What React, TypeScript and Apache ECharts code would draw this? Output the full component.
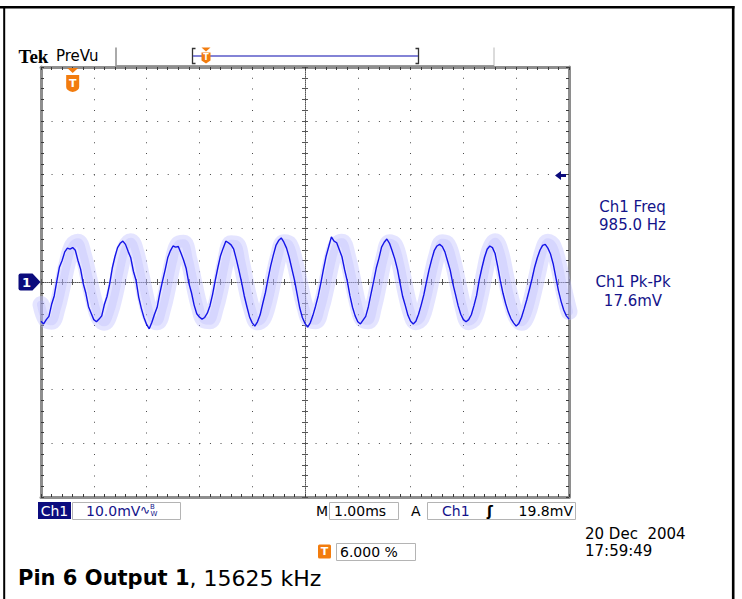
import React, { useEffect, useRef } from 'react';
import * as echarts from 'echarts';

// ---- data (Ch1, 10 mV/div, 1 ms/div) ----
const TIME_STEP_MS = 0.05; // sample spacing of the live trace
const PERSIST_STEP_MS = 0.1; // sample spacing of the persistence cloud centre

// live (dark blue) acquisition, mV, t = 0 .. 10 ms
const traceMv = [
  -7.3, -7.8, -7.0, -6.4, -4.2, -2.6,
  0.2, 2.8, 4.0, 5.6, 6.3, 6.1, 6.4, 5.9, 4.0, 2.4, -0.3, -2.1, -4.6, -5.8, -7.0, -7.4, -6.9, -6.3, -4.2, -2.7,
  -0.4, 2.6, 4.7, 6.4, 7.2, 7.6, 7.0, 5.7, 4.5, 2.0, 0.3, -2.8, -4.9, -6.6, -7.9, -8.7, -7.5, -6.0, -4.7, -2.1,
  0.1, 2.2, 4.5, 5.8, 6.7, 6.5, 6.6, 5.4, 4.1, 2.5, -0.2, -2.0, -4.3, -5.9, -6.5, -6.9, -6.6, -5.8, -4.4, -2.3,
  0.3, 2.7, 4.9, 6.3, 7.6, 7.3, 6.9, 6.1, 4.2, 2.1, -0.1, -2.6, -4.6, -6.5, -7.6, -8.2, -7.4, -6.1, -4.0, -2.0,
  0.6, 3.0, 5.0, 6.8, 7.7, 8.2, 7.4, 6.3, 4.6, 2.5, 0.4, -2.2, -4.8, -6.6, -7.7, -8.4, -7.6, -6.2, -4.5, -2.6,
  -0.2, 2.4, 4.8, 6.6, 8.4, 7.6, 7.3, 6.0, 4.7, 2.3, 0.2, -2.5, -4.7, -6.3, -7.4, -7.8, -7.1, -6.4, -4.6, -2.2,
  0.1, 2.6, 4.4, 6.5, 7.4, 8.0, 7.2, 5.8, 4.3, 2.4, -0.2, -2.7, -4.4, -6.2, -7.3, -7.8, -7.3, -6.0, -4.3, -2.4,
  0.0, 2.3, 4.2, 5.9, 6.7, 7.0, 6.6, 5.6, 3.9, 2.2, -0.3, -2.3, -4.4, -6.0, -7.0, -7.4, -7.0, -6.1, -4.4, -2.5,
  0.4, 2.6, 4.6, 6.1, 6.7, 6.4, 5.3, 2.9, 0.2, -2.1, -4.0, -5.6, -6.8, -7.6, -8.2, -7.7, -6.6, -5.0, -3.3, -1.4,
  0.6, 2.8, 4.5, 5.9, 6.8, 7.0, 6.3, 5.2, 3.4, 0.9, -1.6, -3.6, -5.2, -6.3, -6.9,
];

// centre line of the light persistence cloud, mV, t = 0 .. 10 ms
const persistMv = [
  -4.2, -7.0, -7.3, -5.0, -0.9, 3.6, 6.8, 7.4, 5.1, 0.9,
  -3.4, -6.6, -7.5, -5.8, -2.2, 2.5, 6.3, 7.5, 5.4, 1.0,
  -3.6, -6.8, -7.4, -5.1, -0.9, 3.8, 7.0, 7.2, 4.2, -0.4,
  -4.6, -7.1, -7.2, -4.9, -0.9, 4.0, 7.1, 7.0, 3.5, -1.4,
  -5.3, -7.4, -6.8, -3.9, 0.5, 4.8, 7.3, 7.0, 4.0, -0.4,
  -4.6, -7.1, -7.2, -4.9, -0.9, 3.7, 6.9, 7.4, 4.9, 0.5,
  -4.1, -7.0, -7.2, -4.5, 0.0, 4.6, 7.3, 6.8, 3.4, -1.4,
  -5.4, -7.4, -6.7, -3.5, 0.9, 5.0, 7.3, 6.9, 3.9, -0.5,
  -4.9, -7.4, -6.7, -3.3, 1.6, 5.9, 7.5, 5.6, 1.0, -3.3,
  -6.4, -7.5, -6.2, -2.9, 1.4, 5.5, 7.4, 6.6, 3.2, -1.4,
  -5.5,
];

const X_MIN_MS = 0;
const X_MAX_MS = 10;
const X_DIV_MS = 1;
const Y_MIN_MV = -40;
const Y_MAX_MV = 40;
const Y_DIV_MV = 10;

const GROUND_MV = 0;
const TRIGGER_LEVEL_MV = 19.8;
const TRIGGER_POS_MS = 0.6;

const headerBrand = 'Tek';
const headerMode = 'PreVu';
const measurementLines = ['Ch1 Freq', '985.0 Hz', 'Ch1 Pk-Pk', '17.6mV'];
const statusTexts = {
  ch: 'Ch1',
  scale: '10.0mV',
  timeLabel: 'M',
  time: '1.00ms',
  trigLabel: 'A',
  trigCh: 'Ch1',
  trigSlope: 'ʃ',
  trigLevel: '19.8mV',
  trigPos: '6.000 %',
  date: '20 Dec  2004',
  clock: '17:59:49',
};
const captionBold = 'Pin 6 Output 1';
const captionRest = ', 15625 kHz';

const NAVY = '#13138a';
const ORANGE = '#f27c0e';
const BOX = '#b4b4b4';
const SANS = '"DejaVu Sans", sans-serif';

function txt(text: string, x: number, y: number, size: number, fill: string, align = 'left', weight = 'normal', family = SANS) {
  return {
    type: 'text',
    x,
    y,
    silent: true,
    z: 10,
    style: {
      text,
      fill,
      font: `${weight} ${size}px ${family}`,
      textAlign: align,
      textVerticalAlign: 'middle',
      align,
      verticalAlign: 'middle',
    },
  };
}

function App() {
  const ref = useRef<HTMLDivElement>(null);

  useEffect(() => {
    const chart = echarts.init(ref.current!, undefined, { renderer: 'svg' });

    const traceData = traceMv.map((v, i) => [+(i * TIME_STEP_MS).toFixed(3), v]);
    const persistData = persistMv.map((v, i) => [+(i * PERSIST_STEP_MS).toFixed(3), v]);

    const borderAxis = {
      type: 'value',
      axisLabel: { show: false },
      axisLine: { show: true, onZero: false, lineStyle: { color: '#8e8e8e', width: 3 } },
      axisTick: { show: true, inside: true, length: 3, lineStyle: { color: '#3a3a3a', width: 1 } },
      minorTick: { show: true, splitNumber: 5, length: 3, lineStyle: { color: '#3a3a3a', width: 1 } },
      splitLine: { show: false },
    };
    const centerAxis = {
      type: 'value',
      axisLabel: { show: false },
      axisLine: { show: true, onZero: true, lineStyle: { color: '#555', width: 1, type: [1, 1] } },
      axisTick: { show: true, inside: true, length: 3, lineStyle: { color: '#555', width: 1 } },
      minorTick: { show: true, splitNumber: 5, length: 3, lineStyle: { color: '#555', width: 1 } },
      splitLine: { show: false },
    };

    const gridRect = { left: 41, top: 67, width: 528, height: 430 };

    const graphicEls: any[] = [
      // outer frame
      { type: 'line', silent: true, shape: { x1: 0, y1: 7.2, x2: 734.5, y2: 7.2 }, style: { stroke: '#000', lineWidth: 2.4 } },
      { type: 'line', silent: true, shape: { x1: 4.2, y1: 6, x2: 4.2, y2: 599 }, style: { stroke: '#000', lineWidth: 2 } },
      { type: 'line', silent: true, shape: { x1: 733.2, y1: 6, x2: 733.2, y2: 599 }, style: { stroke: '#000', lineWidth: 2.6 } },
      // header
      txt(headerBrand, 18.5, 56, 19, '#000', 'left', 'bold', '"Liberation Serif", serif'),
      txt(headerMode, 56, 55.5, 15, '#000'),
      { type: 'line', silent: true, shape: { x1: 116, y1: 47.5, x2: 116, y2: 66 }, style: { stroke: '#8e8e8e', lineWidth: 1.5 } },
      { type: 'line', silent: true, shape: { x1: 494, y1: 47.5, x2: 494, y2: 66 }, style: { stroke: '#cfcfcf', lineWidth: 1.5 } },
      { type: 'line', silent: true, shape: { x1: 116, y1: 65.8, x2: 494, y2: 65.8 }, style: { stroke: '#9a9a9a', lineWidth: 1.5 } },
      { type: 'polyline', silent: true, shape: { points: [[195.5, 48.5], [192.5, 48.5], [192.5, 63.5], [195.5, 63.5]] }, style: { stroke: '#333', lineWidth: 1.3, fill: 'none' } },
      { type: 'polyline', silent: true, shape: { points: [[415.5, 48.5], [418.5, 48.5], [418.5, 63.5], [415.5, 63.5]] }, style: { stroke: '#333', lineWidth: 1.3, fill: 'none' } },
      { type: 'line', silent: true, shape: { x1: 193, y1: 56, x2: 418, y2: 56 }, style: { stroke: '#5a5ac8', lineWidth: 1.5 } },
      { type: 'polygon', silent: true, shape: { points: [[201.5, 47.5], [210.5, 47.5], [206, 51.5]] }, style: { fill: ORANGE } },
      { type: 'polygon', silent: true, shape: { points: [[201.5, 52.5], [210.5, 52.5], [210.5, 60.5], [206, 63.5], [201.5, 60.5]] }, style: { fill: ORANGE } },
      txt('T', 206, 57.5, 8, '#fff', 'center', 'bold'),
      // measurements
      txt(measurementLines[0], 632.5, 206.5, 15, NAVY, 'center'),
      txt(measurementLines[1], 632.5, 225, 15, NAVY, 'center'),
      txt(measurementLines[2], 633, 282, 15, NAVY, 'center'),
      txt(measurementLines[3], 633, 300.5, 15, NAVY, 'center'),
      // status row
      { type: 'rect', silent: true, shape: { x: 38, y: 502, width: 33, height: 17 }, style: { fill: '#0c0c7e' } },
      txt(statusTexts.ch, 54.5, 510.5, 14, '#fff', 'center'),
      { type: 'rect', silent: true, shape: { x: 72.5, y: 502.5, width: 108, height: 17 }, style: { fill: 'none', stroke: BOX, lineWidth: 1 } },
      txt(statusTexts.scale, 86, 511, 14, NAVY),
      txt('∿', 140, 510, 12, NAVY),
      txt('B', 150, 507, 7, NAVY),
      txt('W', 150.5, 514, 7, NAVY),
      txt(statusTexts.timeLabel, 316, 511, 14, '#000'),
      { type: 'rect', silent: true, shape: { x: 329.5, y: 502.5, width: 69, height: 17 }, style: { fill: 'none', stroke: BOX, lineWidth: 1 } },
      txt(statusTexts.time, 334, 511, 14, '#000'),
      txt(statusTexts.trigLabel, 411, 511, 14, '#000'),
      { type: 'rect', silent: true, shape: { x: 427.5, y: 502.5, width: 148, height: 17 }, style: { fill: 'none', stroke: BOX, lineWidth: 1 } },
      txt(statusTexts.trigCh, 442, 511, 14, NAVY),
      txt(statusTexts.trigSlope, 487, 511, 14, '#000', 'left', 'bold'),
      txt(statusTexts.trigLevel, 573, 511, 14, '#000', 'right'),
      { type: 'rect', silent: true, shape: { x: 318, y: 544.5, width: 13, height: 14, r: 1.5 }, style: { fill: ORANGE } },
      txt('T', 324.5, 551.5, 11, '#fff', 'center', 'bold'),
      { type: 'rect', silent: true, shape: { x: 336.5, y: 543.5, width: 79, height: 17 }, style: { fill: 'none', stroke: BOX, lineWidth: 1 } },
      txt(statusTexts.trigPos, 340, 552, 14, '#000'),
      txt(statusTexts.date, 585, 534, 15, '#000'),
      txt(statusTexts.clock, 585, 551, 15, '#000'),
      // caption
      {
        type: 'text',
        x: 18,
        y: 578,
        silent: true,
        z: 10,
        style: {
          text: `{b|${captionBold}}{r|${captionRest}}`,
          fill: '#000',
          textVerticalAlign: 'middle',
          verticalAlign: 'middle',
          rich: {
            b: { font: `bold 21px ${SANS}`, fill: '#000', textFill: '#000' },
            r: { font: `normal 22px ${SANS}`, fill: '#000', textFill: '#000' },
          },
        },
      },
    ];

    chart.setOption({
      animation: false,
      backgroundColor: '#fff',
      grid: [
        { ...gridRect, containLabel: false },
        { ...gridRect, containLabel: false },
      ],
      xAxis: [
        {
          ...borderAxis,
          gridIndex: 0,
          min: X_MIN_MS,
          max: X_MAX_MS,
          interval: X_DIV_MS,
          position: 'bottom',
          splitLine: { show: true, lineStyle: { color: '#4a4a4a', width: 1, type: [1, 9.75] } },
        },
        { ...borderAxis, gridIndex: 0, min: X_MIN_MS, max: X_MAX_MS, interval: X_DIV_MS, position: 'top' },
        { ...centerAxis, gridIndex: 1, min: -5, max: 5, interval: 1, position: 'bottom' },
        { ...centerAxis, gridIndex: 1, min: -5, max: 5, interval: 1, position: 'top', axisLine: { show: false, onZero: true } },
      ],
      yAxis: [
        {
          ...borderAxis,
          gridIndex: 0,
          min: Y_MIN_MV,
          max: Y_MAX_MV,
          interval: Y_DIV_MV,
          position: 'left',
          splitLine: { show: true, lineStyle: { color: '#4a4a4a', width: 1, type: [1, 9.56] } },
        },
        { ...borderAxis, gridIndex: 0, min: Y_MIN_MV, max: Y_MAX_MV, interval: Y_DIV_MV, position: 'right' },
        { ...centerAxis, gridIndex: 1, min: -4, max: 4, interval: 1, position: 'left' },
        { ...centerAxis, gridIndex: 1, min: -4, max: 4, interval: 1, position: 'right', axisLine: { show: false, onZero: true } },
      ],
      series: [
        {
          type: 'line',
          name: 'persistence',
          xAxisIndex: 0,
          yAxisIndex: 0,
          data: persistData,
          smooth: 0.4,
          symbol: 'none',
          silent: true,
          z: 2,
          lineStyle: { color: 'rgba(190,190,255,0.42)', width: 17, cap: 'round', join: 'round' },
        },
        {
          type: 'line',
          name: 'persistence-core',
          xAxisIndex: 0,
          yAxisIndex: 0,
          data: persistData,
          smooth: 0.4,
          symbol: 'none',
          silent: true,
          z: 3,
          lineStyle: { color: 'rgba(165,165,250,0.22)', width: 8, cap: 'round', join: 'round' },
        },
        {
          type: 'line',
          name: 'Ch1',
          xAxisIndex: 0,
          yAxisIndex: 0,
          data: traceData,
          symbol: 'none',
          silent: true,
          clip: false,
          z: 4,
          lineStyle: { color: '#1414e8', width: 1.4 },
          markPoint: {
            silent: true,
            animation: false,
            data: [
              {
                name: 'ground',
                coord: [X_MIN_MS, GROUND_MV],
                symbol: 'path://M2,0 L14,0 L22,8.5 L14,17 L2,17 Q0,17 0,15 L0,2 Q0,0 2,0 Z',
                symbolSize: [22, 17],
                symbolOffset: [-11.5, 0],
                itemStyle: { color: '#0b0b7c' },
                label: { show: true, position: 'inside', formatter: '1', color: '#fff', fontWeight: 'bold', fontSize: 13, fontFamily: 'DejaVu Sans', offset: [-3, 0] },
              },
              {
                name: 'trigger level',
                coord: [X_MAX_MS, TRIGGER_LEVEL_MV],
                symbol: 'path://M0,4.5 L6,0 L6,3 L11,3 L11,6 L6,6 L6,9 Z',
                symbolSize: [11, 9],
                symbolOffset: [-8.5, 0],
                itemStyle: { color: '#0b0b7c' },
                label: { show: false },
              },
              {
                name: 'trigger position',
                coord: [TRIGGER_POS_MS, Y_MAX_MV],
                symbol: 'path://M1,0 L12,0 L6.5,5 Z M0,7 L13,7 L13,19 Q13,22.5 6.5,24 Q0,22.5 0,19 Z',
                symbolSize: [13, 24],
                symbolOffset: [0, 13],
                itemStyle: { color: ORANGE },
                label: { show: true, position: 'inside', formatter: 'T', color: '#fff', fontWeight: 'bold', fontSize: 11, fontFamily: 'DejaVu Sans', offset: [0, 3.5] },
              },
            ],
          },
        },
      ],
      graphic: { elements: graphicEls },
    });

    return () => {
      chart.dispose();
    };
  }, []);

  return (
    <div
      ref={ref}
      style={{ position: 'fixed', left: 0, top: 0, width: 742, height: 599, background: '#fff' }}
    />
  );
}

export default App;
